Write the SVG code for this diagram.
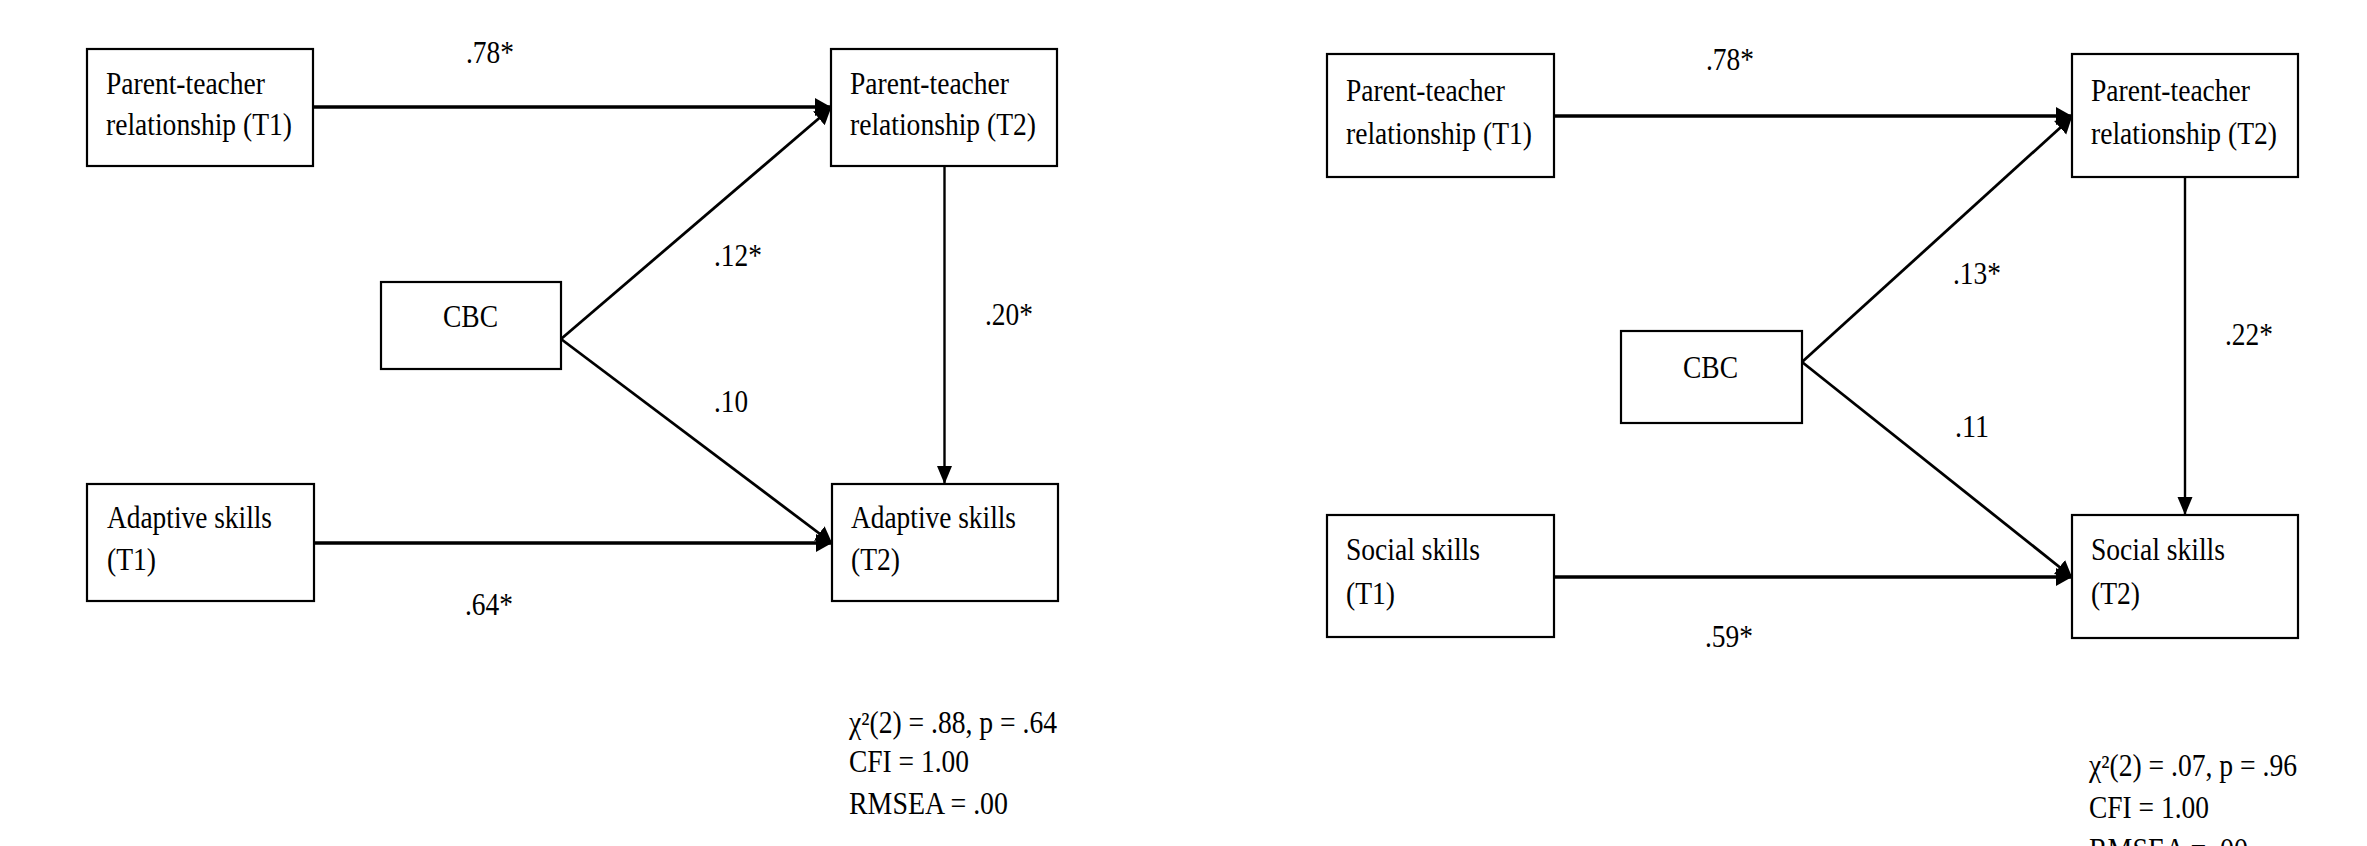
<svg xmlns="http://www.w3.org/2000/svg" width="2367" height="846" viewBox="0 0 2367 846">
<style>
  .box { fill: #ffffff; stroke: #000000; stroke-width: 2.2; }
  text { font-family: "Liberation Serif", "Times New Roman", serif; font-size: 31px; fill: #000000; }
  .thick { stroke: #000000; stroke-width: 3.5; fill: none; }
  .diag { stroke: #000000; stroke-width: 2.8; fill: none; }
  .thin { stroke: #000000; stroke-width: 2.4; fill: none; }
</style>
<defs>
  <marker id="ahA" markerUnits="userSpaceOnUse" markerWidth="17" markerHeight="20" refX="16" refY="10" orient="auto" viewBox="0 0 17 20">
    <path d="M0,1 L16,10 L0,19 Z" fill="#000000"/>
  </marker>
  <marker id="ahB" markerUnits="userSpaceOnUse" markerWidth="19" markerHeight="16" refX="18" refY="8" orient="auto" viewBox="0 0 19 16">
    <path d="M0,0.5 L18,8 L0,15.5 Z" fill="#000000"/>
  </marker>
</defs>
<rect width="2367" height="846" fill="#ffffff"/>

<!-- LEFT MODEL -->
<g id="connectors-left">
  <line class="thick" x1="313" y1="107" x2="831" y2="107" marker-end="url(#ahA)"/>
  <line class="diag" x1="561" y1="339" x2="831" y2="108" marker-end="url(#ahA)"/>
  <line class="diag" x1="561" y1="339" x2="832" y2="543" marker-end="url(#ahA)"/>
  <line class="thick" x1="314" y1="543" x2="832" y2="543" marker-end="url(#ahA)"/>
  <line class="thin" x1="944.5" y1="166" x2="944.5" y2="484" marker-end="url(#ahB)"/>
  <text x="466" y="63" textLength="48" lengthAdjust="spacingAndGlyphs">.78*</text>
  <text x="714" y="266" textLength="48" lengthAdjust="spacingAndGlyphs">.12*</text>
  <text x="985" y="325" textLength="48" lengthAdjust="spacingAndGlyphs">.20*</text>
  <text x="714" y="412" textLength="34" lengthAdjust="spacingAndGlyphs">.10</text>
  <text x="465" y="615" textLength="48" lengthAdjust="spacingAndGlyphs">.64*</text>
</g>

<g id="ptr-t1-left">
  <rect class="box" x="87" y="49" width="226" height="117"/>
  <text x="106" y="94" textLength="159" lengthAdjust="spacingAndGlyphs">Parent-teacher</text>
  <text x="106" y="135" textLength="186" lengthAdjust="spacingAndGlyphs">relationship (T1)</text>
</g>
<g id="ptr-t2-left">
  <rect class="box" x="831" y="49" width="226" height="117"/>
  <text x="850" y="94" textLength="159" lengthAdjust="spacingAndGlyphs">Parent-teacher</text>
  <text x="850" y="135" textLength="186" lengthAdjust="spacingAndGlyphs">relationship (T2)</text>
</g>
<g id="cbc-left">
  <rect class="box" x="381" y="282" width="180" height="87"/>
  <text x="443" y="327" textLength="55" lengthAdjust="spacingAndGlyphs">CBC</text>
</g>
<g id="adaptive-t1">
  <rect class="box" x="87" y="484" width="227" height="117"/>
  <text x="107" y="528" textLength="165" lengthAdjust="spacingAndGlyphs">Adaptive skills</text>
  <text x="107" y="570" textLength="49" lengthAdjust="spacingAndGlyphs">(T1)</text>
</g>
<g id="adaptive-t2">
  <rect class="box" x="832" y="484" width="226" height="117"/>
  <text x="851" y="528" textLength="165" lengthAdjust="spacingAndGlyphs">Adaptive skills</text>
  <text x="851" y="570" textLength="49" lengthAdjust="spacingAndGlyphs">(T2)</text>
</g>
<g id="fit-left">
  <text x="849" y="733" textLength="208" lengthAdjust="spacingAndGlyphs">χ²(2) = .88, p = .64</text>
  <text x="849" y="772" textLength="120" lengthAdjust="spacingAndGlyphs">CFI = 1.00</text>
  <text x="849" y="814" textLength="159" lengthAdjust="spacingAndGlyphs">RMSEA = .00</text>
</g>

<!-- RIGHT MODEL -->
<g id="connectors-right">
  <line class="thick" x1="1554" y1="116" x2="2072" y2="116" marker-end="url(#ahA)"/>
  <line class="diag" x1="1802" y1="362" x2="2072" y2="117" marker-end="url(#ahA)"/>
  <line class="diag" x1="1802" y1="362" x2="2072" y2="577" marker-end="url(#ahA)"/>
  <line class="thick" x1="1554" y1="577" x2="2072" y2="577" marker-end="url(#ahA)"/>
  <line class="thin" x1="2185" y1="177" x2="2185" y2="515" marker-end="url(#ahB)"/>
  <text x="1706" y="70" textLength="48" lengthAdjust="spacingAndGlyphs">.78*</text>
  <text x="1953" y="284" textLength="48" lengthAdjust="spacingAndGlyphs">.13*</text>
  <text x="2225" y="345" textLength="48" lengthAdjust="spacingAndGlyphs">.22*</text>
  <text x="1955" y="437" textLength="34" lengthAdjust="spacingAndGlyphs">.11</text>
  <text x="1705" y="647" textLength="48" lengthAdjust="spacingAndGlyphs">.59*</text>
</g>

<g id="ptr-t1-right">
  <rect class="box" x="1327" y="54" width="227" height="123"/>
  <text x="1346" y="101" textLength="159" lengthAdjust="spacingAndGlyphs">Parent-teacher</text>
  <text x="1346" y="144" textLength="186" lengthAdjust="spacingAndGlyphs">relationship (T1)</text>
</g>
<g id="ptr-t2-right">
  <rect class="box" x="2072" y="54" width="226" height="123"/>
  <text x="2091" y="101" textLength="159" lengthAdjust="spacingAndGlyphs">Parent-teacher</text>
  <text x="2091" y="144" textLength="186" lengthAdjust="spacingAndGlyphs">relationship (T2)</text>
</g>
<g id="cbc-right">
  <rect class="box" x="1621" y="331" width="181" height="92"/>
  <text x="1683" y="378" textLength="55" lengthAdjust="spacingAndGlyphs">CBC</text>
</g>
<g id="social-t1">
  <rect class="box" x="1327" y="515" width="227" height="122"/>
  <text x="1346" y="560" textLength="134" lengthAdjust="spacingAndGlyphs">Social skills</text>
  <text x="1346" y="604" textLength="49" lengthAdjust="spacingAndGlyphs">(T1)</text>
</g>
<g id="social-t2">
  <rect class="box" x="2072" y="515" width="226" height="123"/>
  <text x="2091" y="560" textLength="134" lengthAdjust="spacingAndGlyphs">Social skills</text>
  <text x="2091" y="604" textLength="49" lengthAdjust="spacingAndGlyphs">(T2)</text>
</g>
<g id="fit-right">
  <text x="2089" y="776" textLength="208" lengthAdjust="spacingAndGlyphs">χ²(2) = .07, p = .96</text>
  <text x="2089" y="818" textLength="120" lengthAdjust="spacingAndGlyphs">CFI = 1.00</text>
  <text x="2089" y="860" textLength="159" lengthAdjust="spacingAndGlyphs">RMSEA = .00</text>
</g>
</svg>
